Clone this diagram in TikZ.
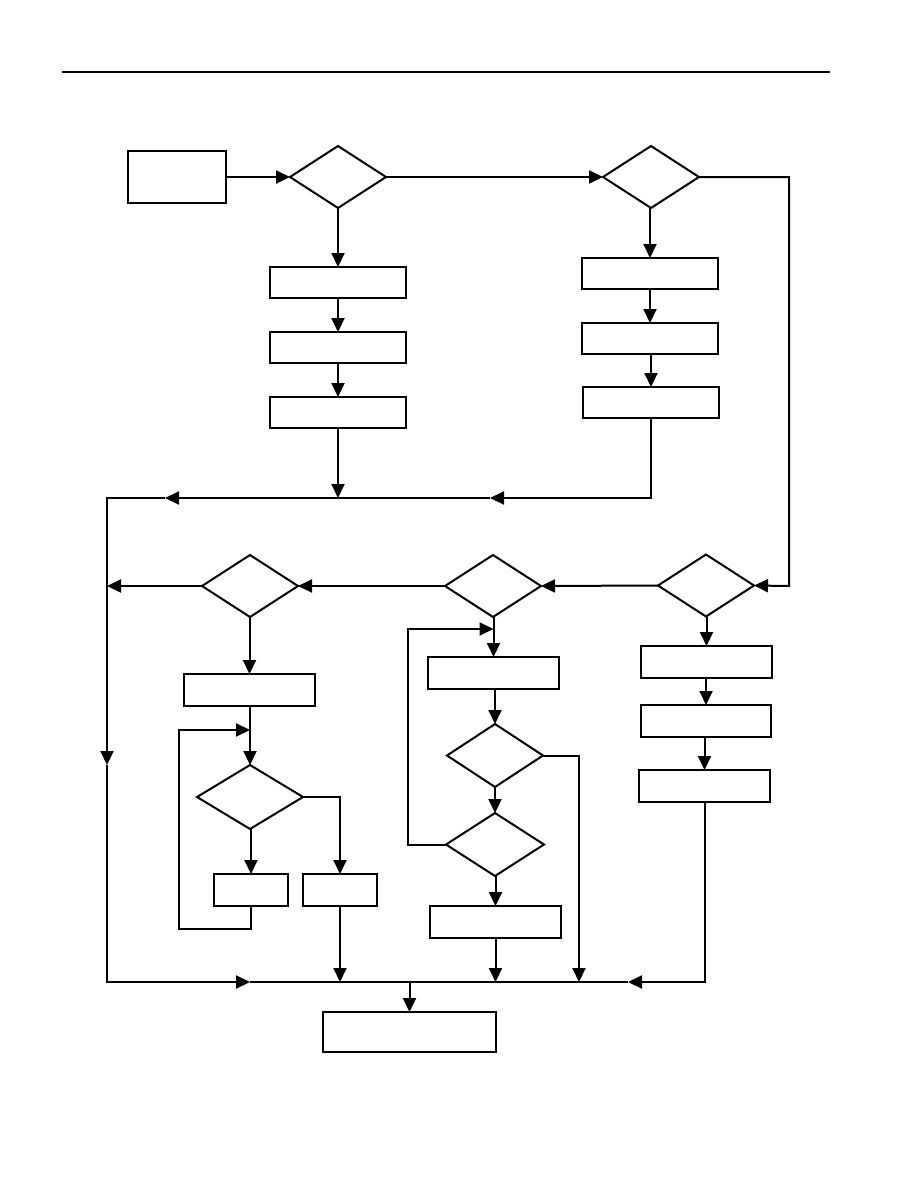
\documentclass[tikz,border=0pt]{standalone}
\usetikzlibrary{arrows.meta,shapes.geometric}
\begin{document}
\begin{tikzpicture}[x=1pt,y=-1pt,
  every path/.style={line width=2pt},
  box/.style={draw,rectangle,inner sep=0pt,outer sep=0pt,line width=2pt},
  dia/.style={draw,diamond,inner sep=0pt,outer sep=0pt,line width=2pt,minimum width=96pt,minimum height=62pt},
  arr/.style={-{Triangle[length=14pt,width=13pt]}},
  ln/.style={line width=2pt}]
\useasboundingbox (0,0) rectangle (918,1188);
\fill[white] (0,0) rectangle (918,1188);
\draw[ln] (62,72) -- (830,72);
% nodes
\node[box,minimum width=98pt,minimum height=52pt] (start) at (177,177) {};
\node[dia] (d1) at (338,177) {};
\node[dia] (d2) at (651,177) {};
\node[box,minimum width=136pt,minimum height=31pt] (b1) at (338,282.5) {};
\node[box,minimum width=136pt,minimum height=31pt] (b2) at (338,347.5) {};
\node[box,minimum width=136pt,minimum height=31pt] (b3) at (338,412.5) {};
\node[box,minimum width=136pt,minimum height=31pt] (c1) at (650,273.5) {};
\node[box,minimum width=136pt,minimum height=31pt] (c2) at (650,338.5) {};
\node[box,minimum width=136pt,minimum height=31pt] (c3) at (651,402.5) {};
\node[dia] (d3) at (250,586) {};
\node[dia] (d4) at (493,586) {};
\node[dia] (d5) at (706,585.5) {};
\node[box,minimum width=131pt,minimum height=32pt] (e1) at (249.5,690) {};
\node[dia,minimum width=106pt,minimum height=64pt] (d6) at (250,797) {};
\node[box,minimum width=74pt,minimum height=32pt] (e2) at (251,890) {};
\node[box,minimum width=74pt,minimum height=32pt] (e3) at (340,890) {};
\node[box,minimum width=131pt,minimum height=32pt] (f1) at (493.5,673) {};
\node[dia,minimum height=63pt] (d7) at (495,755.5) {};
\node[dia,minimum width=98pt,minimum height=63pt] (d8) at (495,844.5) {};
\node[box,minimum width=131pt,minimum height=32pt] (f2) at (495.5,922) {};
\node[box,minimum width=131pt,minimum height=32pt] (g1) at (706.5,662) {};
\node[box,minimum width=130pt,minimum height=32pt] (g2) at (706,721) {};
\node[box,minimum width=131pt,minimum height=32pt] (g3) at (704.5,786) {};
\node[box,minimum width=173pt,minimum height=40pt] (h) at (409.5,1032) {};
% coordinates
\coordinate (r1) at (789,177);
\coordinate (r2) at (789,586);
\coordinate (m1) at (338,498);
\coordinate (m2) at (651,498);
\coordinate (m3) at (490,498);
\coordinate (m4) at (165,498);
\coordinate (lt) at (107,498);
\coordinate (lm) at (107,765);
\coordinate (ld) at (107,586);
\coordinate (lb) at (107,982);
\coordinate (q1) at (250,982);
\coordinate (q2) at (628,982);
\coordinate (q3) at (704.5,982);
\coordinate (q4) at (341,982);
\coordinate (q5) at (495.5,982);
\coordinate (q6) at (579,982);
\coordinate (q7) at (409.5,982);
\coordinate (k1) at (251,929);
\coordinate (k2) at (179,929);
\coordinate (k3) at (179,730);
\coordinate (k4) at (250,730);
\coordinate (s1) at (340,797);
\coordinate (p1) at (408,844.5);
\coordinate (p2) at (408,629);
\coordinate (p3) at (493.5,629);
\coordinate (t1) at (579,755.5);
% connectors
\draw[arr] (start.east) -- (d1.west);
\draw[arr] (d1.east) -- (d2.west);
\draw[arr] (d2.east) -- (r1) -- (r2) -- (d5.east);
\draw[arr] (d1.south) -- (b1.north);
\draw[arr] (b1.south) -- (b2.north);
\draw[arr] (b2.south) -- (b3.north);
\draw[arr] (b3.south) -- (m1);
\draw[arr] (d2.south -| c1.north) -- (c1.north);
\draw[arr] (c1.south) -- (c2.north);
\draw[arr] (c2.south -| c3.north) -- (c3.north);
\draw[arr] (c3.south) -- (m2) -- (m3);
\draw[arr] (m3) -- (m4);
\draw[arr] (m4) -- (lt) -- (lm);
\draw[arr] (lm) -- (lb) -- (q1);
\draw (q1) -- (q2);
\draw[arr] (g3.south) -- (q3) -- (q2);
\draw[arr] (d5.west) -- (d4.east);
\draw[arr] (d4.west) -- (d3.east);
\draw[arr] (d3.west) -- (ld);
\draw[arr] (d3.south -| e1.north) -- (e1.north);
\draw[arr] (e1.south -| d6.north) -- (d6.north);
\draw[arr] (e2.south) -- (k1) -- (k2) -- (k3) -- (k4);
\draw[arr] (d6.south -| e2.north) -- (e2.north);
\draw[arr] (d6.east) -- (s1) -- (e3.north);
\draw[arr] (e3.south) -- (e3.south |- q4);
\draw[arr] (d4.south -| f1.north) -- (f1.north);
\draw[arr] (f1.south -| d7.north) -- (d7.north);
\draw[arr] (d7.south) -- (d8.north);
\draw[arr] (d8.south -| f2.north) -- (f2.north);
\draw[arr] (f2.south) -- (q5);
\draw[arr] (d7.east) -- (t1) -- (q6);
\draw[arr] (d8.west) -- (p1) -- (p2) -- (p3);
\draw[arr] (d5.south -| g1.north) -- (g1.north);
\draw[arr] (g1.south -| g2.north) -- (g2.north);
\draw[arr] (g2.south -| g3.north) -- (g3.north);
\draw[arr] (q7) -- (h.north);
\end{tikzpicture}
\end{document}
